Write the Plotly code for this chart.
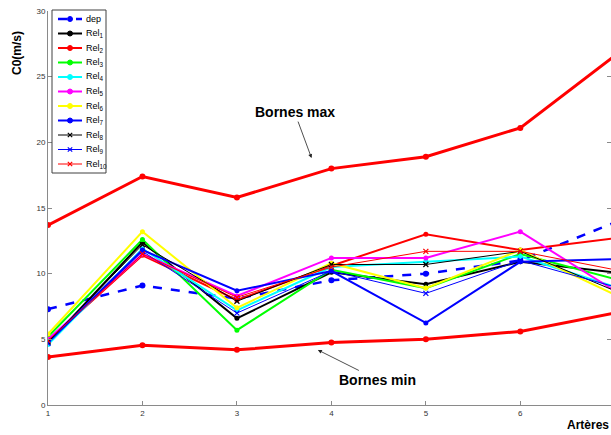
import plotly.graph_objects as go

arteres = [1, 2, 3, 4, 5, 6, 7]

dep = [7.3, 9.1, 8.1, 9.5, 10.0, 11.0, 13.9]
rel1 = [4.7, 12.4, 6.6, 10.1, 9.2, 10.9, 10.1]
rel2 = [4.9, 11.4, 8.0, 10.6, 13.0, 11.8, 12.7]
rel3 = [5.2, 12.6, 5.7, 10.3, 8.9, 11.5, 9.6]
rel4 = [4.6, 11.9, 7.2, 10.5, 10.9, 11.3, 9.0]
rel5 = [5.0, 11.5, 8.3, 11.2, 11.2, 13.2, 8.7]
rel6 = [5.4, 13.2, 7.4, 10.8, 8.9, 11.8, 8.4]
rel7 = [4.8, 11.8, 8.7, 10.2, 6.25, 10.9, 11.1]
rel8 = [4.8, 12.2, 7.9, 10.7, 10.7, 11.7, 8.7]
rel9 = [4.7, 11.7, 7.0, 10.2, 8.5, 11.0, 9.0]
rel10 = [4.9, 11.5, 8.2, 10.5, 11.7, 11.7, 10.3]
bornes_max = [13.7, 17.4, 15.8, 18.0, 18.9, 21.1, 26.6]
bornes_min = [3.65, 4.55, 4.2, 4.75, 5.0, 5.6, 7.0]

y_ticks = [0, 5, 10, 15, 20, 25, 30]
x_ticks = [1, 2, 3, 4, 5, 6]

FONT = "Liberation Sans, Arial, Helvetica"

# figure geometry (pixels)
W, H = 611, 435
ML, MR, MT, MB = 48, 0, 11, 30
PW, PH = W - ML - MR, H - MT - MB


def px(x):
    return (x - ML) / PW


def py(y):
    return (H - MB - y) / PH


fig = go.Figure()

fig.add_trace(go.Scatter(x=arteres, y=bornes_max, mode="lines+markers", showlegend=False,
                         line=dict(color="#ff0000", width=3), marker=dict(color="#ff0000", size=6)))
fig.add_trace(go.Scatter(x=arteres, y=bornes_min, mode="lines+markers", showlegend=False,
                         line=dict(color="#ff0000", width=3), marker=dict(color="#ff0000", size=6)))

series = [
    ("dep", dep, "#0000ff", "dash", 2.5, "circle"),
    ("Rel<sub>1</sub>", rel1, "#000000", "solid", 2, "circle"),
    ("Rel<sub>2</sub>", rel2, "#ff0000", "solid", 2, "circle"),
    ("Rel<sub>3</sub>", rel3, "#00ff00", "solid", 2, "circle"),
    ("Rel<sub>4</sub>", rel4, "#00ffff", "solid", 2, "circle"),
    ("Rel<sub>5</sub>", rel5, "#ff00ff", "solid", 2, "circle"),
    ("Rel<sub>6</sub>", rel6, "#ffff00", "solid", 2, "circle"),
    ("Rel<sub>7</sub>", rel7, "#0000ff", "solid", 2, "circle"),
    ("Rel<sub>8</sub>", rel8, "#000000", "solid", 1, "x"),
    ("Rel<sub>9</sub>", rel9, "#0000ff", "solid", 1, "x"),
    ("Rel<sub>10</sub>", rel10, "#ff0000", "solid", 1, "x"),
]

for name, vals, col, dash, lw, sym in series:
    if sym == "circle":
        mk = dict(color=col, size=6 if name == "dep" else 5)
    else:
        mk = dict(color=col, size=5, symbol="x-thin", line=dict(color=col, width=1.2))
    fig.add_trace(go.Scatter(x=arteres, y=vals, mode="lines+markers", name=name, showlegend=False,
                             line=dict(color=col, width=lw, dash=dash), marker=mk))

axis_common = dict(showgrid=False, zeroline=False, showline=True, linecolor="#8a8a8a",
                   linewidth=1, ticks="inside", ticklen=4, tickcolor="#8a8a8a", automargin=False,
                   tickfont=dict(family=FONT, size=8, color="#333333"))

fig.update_xaxes(range=[1, 6.96], tickvals=x_ticks, mirror=False, **axis_common)
fig.update_yaxes(range=[0, 30], tickvals=y_ticks, mirror="ticks", **axis_common)

# manual compact legend (MATLAB style)
shapes = [dict(type="rect", xref="paper", yref="paper", x0=px(52), x1=px(106), y0=py(173), y1=py(10),
               line=dict(color="#404040", width=1), fillcolor="white", layer="above")]
annotations = []
item_y0, item_step = 19, 14.5
for i, (name, vals, col, dash, lw, sym) in enumerate(series):
    yy = item_y0 + i * item_step
    shapes.append(dict(type="line", xref="paper", yref="paper", x0=px(58), x1=px(82), y0=py(yy), y1=py(yy),
                       line=dict(color=col, width=lw, dash="dash" if dash == "dash" else "solid"),
                       layer="above"))
    if sym == "circle":
        shapes.append(dict(type="circle", xref="paper", yref="paper", xsizemode="pixel", ysizemode="pixel",
                           xanchor=px(70), yanchor=py(yy), x0=-2.5, x1=2.5, y0=-2.5, y1=2.5,
                           fillcolor=col, line=dict(color=col, width=1), layer="above"))
    else:
        for a, b in ((-2.2, 2.2), (2.2, -2.2)):
            shapes.append(dict(type="line", xref="paper", yref="paper", xsizemode="pixel", ysizemode="pixel",
                               xanchor=px(70), yanchor=py(yy), x0=-2.2, x1=2.2, y0=a, y1=b,
                               line=dict(color=col, width=1.2), layer="above"))
    annotations.append(dict(xref="paper", yref="paper", x=px(84), y=py(yy), xanchor="left", yanchor="middle",
                            text=name, showarrow=False, font=dict(family=FONT, size=9, color="#000000")))

annotations += [
    dict(x=3.79, y=18.8, ax=-17, ay=-46, text="<b>Bornes max</b>", showarrow=True,
         arrowhead=2, arrowsize=1, arrowwidth=0.8, arrowcolor="#222222",
         font=dict(family=FONT, size=14, color="#000000")),
    dict(x=3.857, y=4.19, ax=60, ay=30, text="<b>Bornes min</b>", showarrow=True,
         arrowhead=2, arrowsize=1, arrowwidth=0.8, arrowcolor="#222222",
         font=dict(family=FONT, size=14, color="#000000")),
    dict(xref="paper", yref="paper", x=px(17), y=py(53), text="<b>C0(m/s)</b>",
         textangle=-90, showarrow=False, xanchor="center", yanchor="middle",
         font=dict(family=FONT, size=12, color="#000000")),
    dict(xref="paper", yref="paper", x=1.0, y=py(425), text="<b>Artères</b>",
         showarrow=False, xanchor="right", yanchor="middle",
         font=dict(family=FONT, size=12, color="#000000")),
]

fig.update_layout(
    width=W, height=H,
    margin=dict(l=ML, r=MR, t=MT, b=MB),
    paper_bgcolor="white", plot_bgcolor="white",
    showlegend=False,
    shapes=shapes,
    annotations=annotations,
)

fig.write_html("out.html", config={"displayModeBar": False},
               post_script="document.body.style.margin='0';document.body.style.overflow='hidden';")
